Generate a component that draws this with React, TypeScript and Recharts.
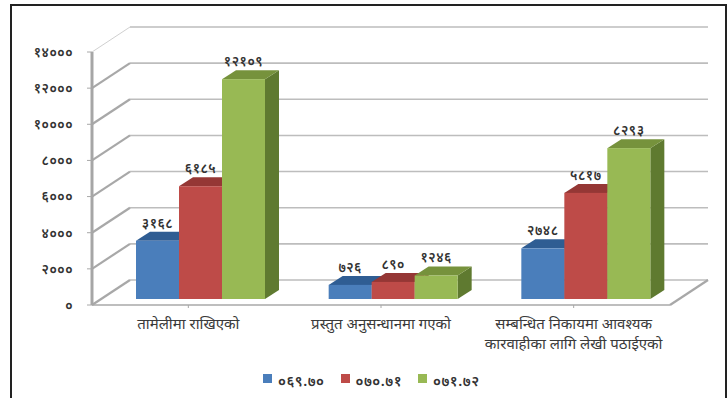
import { BarChart, Bar, XAxis, YAxis, CartesianGrid, Legend, LabelList } from 'recharts';

const categories = [
    ['तामेलीमा राखिएको'],
    ['प्रस्तुत अनुसन्धानमा गएको'],
    ['सम्बन्धित निकायमा आवश्यक', 'कारवाहीका लागि लेखी पठाईएको'],
];
const series1 = [3168, 726, 2748];
const series2 = [6185, 890, 5817];
const series3 = [12109, 1246, 8293];
const seriesNames = ['०६९.७०', '०७०.७१', '०७१.७२'];
const yTicks = [0, 2000, 4000, 6000, 8000, 10000, 12000, 14000];

const data = categories.map((lines, i) => ({
    name: lines.join(' '),
    lines,
    a: series1[i],
    b: series2[i],
    c: series3[i],
}));

const FONT = '"Noto Sans", "DejaVu Sans", sans-serif';
const GRID = '#bdbdbd';
const WALL_DX = 38;
const WALL_DY = 25;
const BAR_DX = 12;
const BAR_DY = 7;
const DEPTH_X = 14;
const DEPTH_Y = 9;

const toDevanagari = (n: number | string) =>
    String(n).replace(/[0-9]/g, d => '०१२३४५६७८९'[Number(d)]);

// Extruded column: front face plus top and side polygons
function box3d(front: string, top: string, side: string) {
    return (props: any) => {
        const { x, y, width, height } = props;
        const l = x + BAR_DX;
        const r = l + width;
        const t = y - BAR_DY;
        const b = t + height + 1;
        return (
            <g>
                <polygon points={`${r},${t} ${r + DEPTH_X},${t - DEPTH_Y} ${r + DEPTH_X},${b - DEPTH_Y} ${r},${b}`} fill={side} />
                <polygon points={`${l},${t} ${l + DEPTH_X},${t - DEPTH_Y} ${r + DEPTH_X},${t - DEPTH_Y} ${r},${t}`} fill={top} />
                <rect x={l} y={t} width={width} height={b - t} fill={front} />
            </g>
        );
    };
}

// Gridline on the back wall with its diagonal down to the front axis
function wallLine(props: any) {
    const { x1, x2, y1, index } = props;
    const isFloor = y1 > 300;
    const isTop = y1 < 60;
    return (
        <g key={`wall-${index}`}>
            <line x1={x1 + WALL_DX} x2={x2 + WALL_DX} y1={y1 - WALL_DY} y2={y1 - WALL_DY} stroke={GRID} strokeWidth={1.6} />
            <line x1={x1} x2={x1 + WALL_DX} y1={y1} y2={y1 - WALL_DY} stroke={isTop ? '#d0d0d0' : '#a8a8a8'} strokeWidth={isTop ? 1 : 2.2} />
            {isFloor && <line x1={x2} x2={x2 + WALL_DX} y1={y1} y2={y1 - WALL_DY} stroke="#a8a8a8" strokeWidth={2.2} />}
        </g>
    );
}

function CategoryTick(props: any) {
    const { x, y, payload, index } = props;
    const lines = categories[index] ?? [payload.value];
    return (
        <text x={x} y={y + 19} textAnchor="middle" fontFamily={FONT} fontSize={15} fill="#3a3a3a">
            {lines.map((line, i) => (
                <tspan key={i} x={x} dy={i === 0 ? 0 : 19.5}>{line}</tspan>
            ))}
        </text>
    );
}

function barLabel(props: any) {
    const { x, y, width, value } = props;
    return (
        <text x={x + width / 2 + BAR_DX} y={y - 20} textAnchor="middle" fontFamily={FONT} fontSize={13.5} fontWeight={600} letterSpacing={0.5} fill="#333">
            {toDevanagari(value)}
        </text>
    );
}

export default function App() {
    return (
        <div style={{ position: 'absolute', left: 0, top: 0, width: 727, height: 398, background: '#fff', overflow: 'hidden' }}>
            <div style={{ position: 'absolute', left: 10, top: 4, width: 713, height: 400, border: '2px solid #222' }} />
            <BarChart
                width={727}
                height={398}
                data={data}
                barGap={0}
                barCategoryGap={32}
                margin={{ top: 52, right: 57, bottom: 0, left: 0 }}
                style={{ position: 'absolute', left: 0, top: 0 }}
            >
                <CartesianGrid vertical={false} horizontal={wallLine} />
                <XAxis
                    dataKey="name"
                    height={73}
                    interval={0}
                    tick={CategoryTick}
                    tickSize={3}
                    axisLine={{ stroke: '#a8a8a8', strokeWidth: 1.5 }}
                    tickLine={{ stroke: '#a8a8a8' }}
                />
                <YAxis
                    width={92}
                    domain={[0, 14000]}
                    ticks={yTicks}
                    interval={0}
                    tickFormatter={toDevanagari}
                    tickSize={5}
                    tickMargin={14}
                    tick={{ fontFamily: FONT, fontSize: 13.5, fontWeight: 600, letterSpacing: 0.5, fill: '#333' }}
                    axisLine={{ stroke: '#a6a6a6', strokeWidth: 3 }}
                    tickLine={{ stroke: '#a8a8a8' }}
                />
                <Legend
                    layout="horizontal"
                    align="left"
                    verticalAlign="bottom"
                    iconType="square"
                    iconSize={9}
                    wrapperStyle={{ position: 'absolute', left: 263, top: 366, width: 280, height: 20, fontFamily: FONT, fontSize: 14.5, fontWeight: 600 }}
                    formatter={(value: string) => (
                        <span style={{ color: '#333', marginLeft: 2, marginRight: 6, letterSpacing: 0.5, position: 'relative', top: 4 }}>{value}</span>
                    )}
                />
                <Bar dataKey="a" name={seriesNames[0]} fill="#4a7ebb" isAnimationActive={false} shape={box3d('#4a7ebb', '#2f5d93', '#2f5d93')}>
                    <LabelList dataKey="a" content={barLabel} />
                </Bar>
                <Bar dataKey="b" name={seriesNames[1]} fill="#be4b48" isAnimationActive={false} shape={box3d('#be4b48', '#953735', '#7f2f2d')}>
                    <LabelList dataKey="b" content={barLabel} />
                </Bar>
                <Bar dataKey="c" name={seriesNames[2]} fill="#98b954" isAnimationActive={false} shape={box3d('#98b954', '#76923c', '#5f7a30')}>
                    <LabelList dataKey="c" content={barLabel} />
                </Bar>
            </BarChart>
        </div>
    );
}
